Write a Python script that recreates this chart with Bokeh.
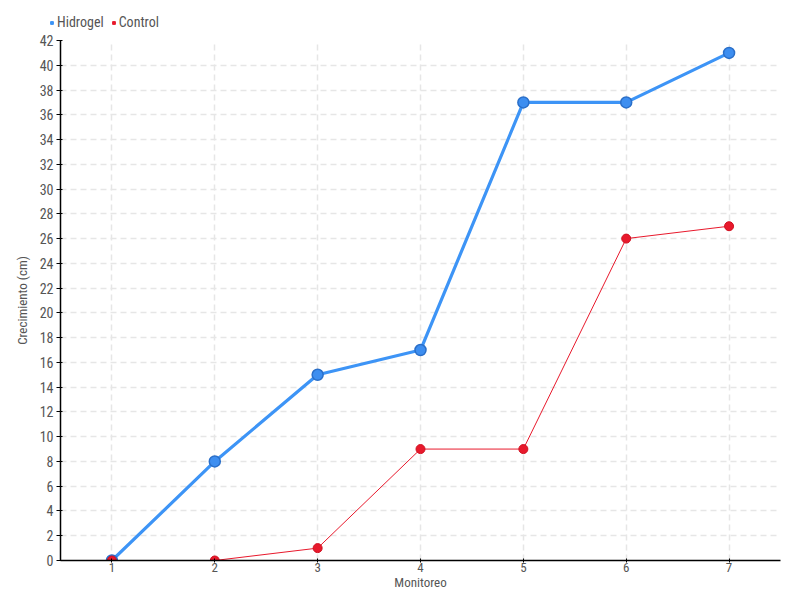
from bokeh.plotting import figure
from bokeh.layouts import column, row
from bokeh.models import Legend, LegendItem, FixedTicker, Range1d
from bokeh.embed import file_html
from bokeh.resources import INLINE

monitoreo = [1, 2, 3, 4, 5, 6, 7]
hidrogel = [0, 8, 15, 17, 37, 37, 41]
control = [0, 0, 1, 9, 9, 26, 27]
y_ticks = list(range(0, 43, 2))
series_names = ["Hidrogel", "Control"]

FONT = "'Roboto Condensed', 'DejaVu Sans Condensed', Roboto, sans-serif"
TXT = "#555555"
BLUE = "#3d94f6"
RED = "#e8192c"

# legend strip (its points lie outside its ranges: only the legend shows)
lg = figure(width=792, height=32, output_backend="svg", toolbar_location=None,
            x_axis_type=None, y_axis_type=None, x_range=Range1d(100, 101), y_range=Range1d(100, 101),
            min_border_left=0, min_border_right=0, min_border_top=0, min_border_bottom=0)
lg.outline_line_color = None
lg.grid.visible = False
s1 = lg.scatter(monitoreo, hidrogel, marker="square", size=6, color=BLUE)
s2 = lg.scatter(monitoreo, control, marker="square", size=6, color=RED)
legend = Legend(items=[LegendItem(label=series_names[0], renderers=[s1]),
                       LegendItem(label=series_names[1], renderers=[s2])],
                orientation="horizontal", location=(48, 2),
                glyph_width=7, glyph_height=7, label_standoff=2, spacing=6,
                padding=0, margin=0, border_line_color=None, background_fill_alpha=0,
                label_text_font=FONT, label_text_font_size="14px", label_text_color=TXT)
lg.add_layout(legend, "center")

p = figure(width=792, height=560, output_backend="svg", toolbar_location=None,
           x_range=Range1d(0.5, 7.5), y_range=Range1d(0, 42),
           min_border_left=60, min_border_right=12, min_border_top=8, min_border_bottom=32)
p.outline_line_color = None

p.line(monitoreo, hidrogel, line_color=BLUE, line_width=3.2)
p.scatter(monitoreo, hidrogel, size=11, fill_color="#3d8ef0", line_color="#2a6fc9", line_width=1.5)
p.line(monitoreo, control, line_color=RED, line_width=1)
p.scatter(monitoreo, control, size=9, fill_color=RED, line_color="#d01020", line_width=1)

p.xaxis.ticker = FixedTicker(ticks=monitoreo)
p.yaxis.ticker = FixedTicker(ticks=y_ticks)
p.xaxis.axis_label = "Monitoreo"
p.yaxis.axis_label = "Crecimiento (cm)"
for ax in (p.xaxis, p.yaxis):
    ax.axis_label_text_font = FONT
    ax.axis_label_text_font_style = "normal"
    ax.axis_label_text_font_size = "13px"
    ax.axis_label_text_color = TXT
    ax.major_label_text_font = FONT
    ax.major_label_text_font_size = "14px"
    ax.major_label_text_color = TXT
    ax.axis_line_color = "black"
    ax.axis_line_width = 1.5
    ax.major_tick_line_color = "black"
    ax.minor_tick_line_color = None
    ax.major_tick_out = 4
    ax.major_tick_in = 2
p.xaxis.major_label_text_font_size = "13px"
p.xaxis.major_tick_out = 2
p.xaxis.major_label_standoff = 0
p.xaxis.axis_label_standoff = 0
p.yaxis.major_label_standoff = 3
p.yaxis.axis_label_standoff = 7

p.grid.grid_line_color = "#e6e6e6"
p.grid.grid_line_dash = "6 4"
p.grid.grid_line_width = 1.5

layout = column(row(lg), p, spacing=0)
open("out.html", "w").write(file_html(layout, INLINE))
